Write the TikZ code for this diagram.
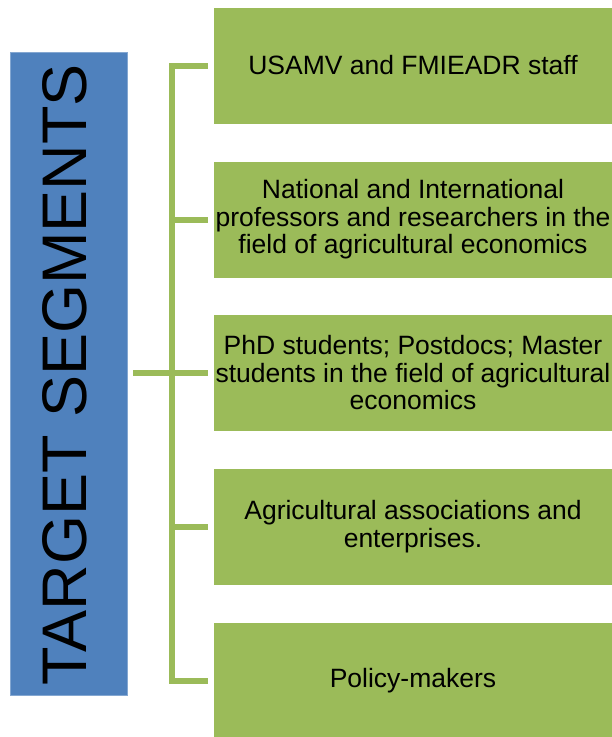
\documentclass[tikz,border=0pt]{standalone}
\usepackage{fontspec}
\setmainfont{Liberation Sans}
\definecolor{barblue}{HTML}{4F81BD}
\definecolor{segreen}{HTML}{9BBB59}
\tikzset{
	segbox/.style={rectangle, draw=white, line width=1pt, fill=segreen, minimum width=400pt, minimum height=117pt, align=center, inner sep=0pt, font=\fontsize{26.5}{27.5}\selectfont},
	link/.style={draw=segreen, line width=6pt},
}
\begin{document}
\begin{tikzpicture}[x=1pt, y=-1pt]
			\useasboundingbox (0,0) rectangle (612,737);
			% Left bar
			\node[rectangle, draw=barblue!70!white, fill=barblue, minimum width=117pt, minimum height=643pt, inner sep=0pt] (bar) at (68.5, 373.5) {};
			\node[rotate=90, inner sep=0pt, font=\fontsize{63}{63}\selectfont] (title) at (65, 375) {TARGET SEGMENTS};
			
			% Segments
			\foreach \i/\y/\name in {1/65.5/{USAMV and FMIEADR staff}, 2/219.5/{National and International\\professors and researchers in the\\field of agricultural economics}, 3/373/{PhD students; Postdocs; Master\\students in the field of agricultural\\economics}, 4/526.5/{Agricultural associations and\\enterprises.}, 5/680.5/{Policy-makers}} {
				\node[segbox] (seg\i) at (413, \y) {\name};
			}
			
			% Connections
			\coordinate (spine) at (172, 0);
			\draw[link] ([xshift=-5pt]seg1.west) -| (spine |- seg5.west) -- ([xshift=-5pt]seg5.west);
			\foreach \i in {2, 3, 4} {
				\draw[link] (spine |- seg\i.west) -- ([xshift=-5pt]seg\i.west);
			}
			\draw[link] ([xshift=6pt]bar.east |- seg3.west) -- (spine |- seg3.west);
		\end{tikzpicture}
\end{document}
